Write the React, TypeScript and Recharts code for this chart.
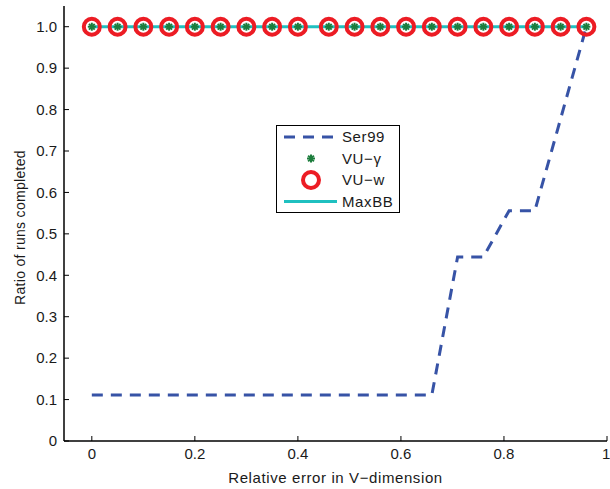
import React from 'react';
import { ComposedChart, Line, XAxis, YAxis, Legend } from 'recharts';

// relative error in V-dimension (x positions of the 20 runs)
const relErrors = [0, 0.05, 0.1, 0.15, 0.2, 0.25, 0.3, 0.35, 0.4, 0.46, 0.51, 0.56, 0.61, 0.66, 0.71, 0.76, 0.81, 0.86, 0.91, 0.96];

const ser99 = [0.111, 0.111, 0.111, 0.111, 0.111, 0.111, 0.111, 0.111, 0.111, 0.111, 0.111, 0.111, 0.111, 0.111, 0.444, 0.444, 0.556, 0.556, 0.778, 1.0];
const vuGamma = [1, 1, 1, 1, 1, 1, 1, 1, 1, 1, 1, 1, 1, 1, 1, 1, 1, 1, 1, 1];
const vuW = [1, 1, 1, 1, 1, 1, 1, 1, 1, 1, 1, 1, 1, 1, 1, 1, 1, 1, 1, 1];
const maxBB = [1, 1, 1, 1, 1, 1, 1, 1, 1, 1, 1, 1, 1, 1, 1, 1, 1, 1, 1, 1];

const xTicks = [0, 0.2, 0.4, 0.6, 0.8, 1];
const yTicks = [0, 0.1, 0.2, 0.3, 0.4, 0.5, 0.6, 0.7, 0.8, 0.9, 1.0];

const data = relErrors.map((x, i) => ({
  x,
  ser99: ser99[i],
  vuGamma: vuGamma[i],
  vuW: vuW[i],
  maxBB: maxBB[i],
}));

const FONT = '"Liberation Sans", Arial, sans-serif';
const BLUE = '#3753a6';
const GREEN = '#1d7d3d';
const RED = '#ec1c24';
const CYAN = '#1fc0c0';
const TEXT = '#1a1a1a';

const Asterisk = ({ cx, cy, size = 4 }: { cx?: number; cy?: number; size?: number }) => {
  if (cx == null || cy == null) return null;
  const d = size * 0.72;
  return (
    <g stroke={GREEN} strokeWidth={2}>
      <line x1={cx - size} y1={cy} x2={cx + size} y2={cy} />
      <line x1={cx} y1={cy - size} x2={cx} y2={cy + size} />
      <line x1={cx - d} y1={cy - d} x2={cx + d} y2={cy + d} />
      <line x1={cx - d} y1={cy + d} x2={cx + d} y2={cy - d} />
    </g>
  );
};

const Ring = ({ cx, cy }: { cx?: number; cy?: number }) => {
  if (cx == null || cy == null) return null;
  return <circle cx={cx} cy={cy} r={8} fill="none" stroke={RED} strokeWidth={4} />;
};

const fmtX = (v: number) => (v === 0 ? '0' : v === 1 ? '1' : v.toFixed(1));
const fmtY = (v: number) => (v === 0 ? '0' : v.toFixed(1));

const legendItems = [
  { name: 'Ser99', kind: 'dash' },
  { name: 'VU\u2212\u03b3', kind: 'star' },
  { name: 'VU\u2212w', kind: 'ring' },
  { name: 'MaxBB', kind: 'line' },
];

const LegendBox = () => (
  <svg width={124} height={88} style={{ display: 'block' }}>
    <rect x={0.5} y={0.5} width={123} height={87} fill="#fff" stroke="#000" strokeWidth={1} />
    {legendItems.map((it, i) => {
      const y = 12 + i * 21.5;
      return (
        <g key={it.name}>
          {it.kind === 'dash' && (
            <line x1={8} y1={y} x2={61} y2={y} stroke={BLUE} strokeWidth={3} strokeDasharray="11 8" />
          )}
          {it.kind === 'line' && <line x1={8} y1={y} x2={61} y2={y} stroke={CYAN} strokeWidth={3} />}
          {it.kind === 'star' && <Asterisk cx={35} cy={y} />}
          {it.kind === 'ring' && <Ring cx={35} cy={y} />}
          <text x={66} y={y} dy="0.36em" fontFamily={FONT} fontSize={15} letterSpacing={0.6} fill={TEXT}>
            {it.name}
          </text>
        </g>
      );
    })}
  </svg>
);

export default function App() {
  const tickStyle = { fill: TEXT, fontSize: 15, fontFamily: FONT };
  return (
    <div style={{ position: 'absolute', left: 0, top: 0, background: '#fff' }}>
      <ComposedChart width={610} height={489} data={data} margin={{ top: 6, right: 3, bottom: 0, left: 0 }}>
        <XAxis
          xAxisId="bottom"
          dataKey="x"
          type="number"
          domain={[-0.054, 1]}
          ticks={xTicks}
          tickFormatter={fmtX}
          allowDataOverflow
          height={48}
          tickSize={-5}
          tickMargin={12}
          axisLine={{ stroke: '#000', strokeWidth: 1.5 }}
          tickLine={{ stroke: '#000' }}
          tick={tickStyle}
          label={{ value: 'Relative error in V\u2212dimension', position: 'insideBottom', offset: 6, fill: TEXT, fontSize: 15, fontFamily: FONT, letterSpacing: 0.6 }}
        />
        <XAxis
          xAxisId="top"
          dataKey="x"
          type="number"
          orientation="top"
          domain={[-0.054, 1]}
          ticks={xTicks}
          tickFormatter={() => ''}
          allowDataOverflow
          height={0}
          tickSize={-5}
          axisLine={{ stroke: '#000', strokeWidth: 1.5 }}
          tickLine={{ stroke: '#000' }}
        />
        <YAxis
          yAxisId="left"
          type="number"
          domain={[0, 1.05]}
          ticks={yTicks}
          tickFormatter={fmtY}
          allowDataOverflow
          width={64}
          tickSize={-5}
          tickMargin={12}
          axisLine={{ stroke: '#000', strokeWidth: 1.5 }}
          tickLine={{ stroke: '#000' }}
          tick={tickStyle}
          label={({ viewBox }: any) => (
            <text
              x={viewBox.x + 20}
              y={viewBox.y + viewBox.height / 2 + 4}
              transform={`rotate(-90, ${viewBox.x + 20}, ${viewBox.y + viewBox.height / 2 + 4})`}
              textAnchor="middle"
              dominantBaseline="central"
              fontFamily={FONT}
              fontSize={14}
              letterSpacing={0.3}
              fill={TEXT}
            >
              Ratio of runs completed
            </text>
          )}
        />
        <YAxis
          yAxisId="right"
          type="number"
          orientation="right"
          domain={[0, 1.05]}
          ticks={yTicks}
          tickFormatter={() => ''}
          allowDataOverflow
          width={0}
          tickSize={-5}
          axisLine={{ stroke: '#000', strokeWidth: 1.5 }}
          tickLine={{ stroke: '#000' }}
        />
        <Legend
          layout="vertical"
          align="center"
          verticalAlign="middle"
          wrapperStyle={{ position: 'absolute', left: 276, top: 125, width: 124, height: 88 }}
          content={() => <LegendBox />}
        />
        <Line
          xAxisId="bottom"
          yAxisId="left"
          dataKey="ser99"
          name="Ser99"
          type="linear"
          stroke={BLUE}
          strokeWidth={3}
          strokeDasharray="11 8"
          dot={false}
          isAnimationActive={false}
        />
        <Line
          xAxisId="bottom"
          yAxisId="left"
          dataKey="vuGamma"
          name={'VU\u2212\u03b3'}
          type="linear"
          stroke="none"
          dot={(p: any) => <Asterisk key={`g${p.index}`} cx={p.cx} cy={p.cy} />}
          isAnimationActive={false}
        />
        <Line
          xAxisId="bottom"
          yAxisId="left"
          dataKey="vuW"
          name={'VU\u2212w'}
          type="linear"
          stroke="none"
          dot={(p: any) => <Ring key={`r${p.index}`} cx={p.cx} cy={p.cy} />}
          isAnimationActive={false}
        />
        <Line
          xAxisId="bottom"
          yAxisId="left"
          dataKey="maxBB"
          name="MaxBB"
          type="linear"
          stroke={CYAN}
          strokeWidth={3}
          dot={false}
          isAnimationActive={false}
        />
      </ComposedChart>
    </div>
  );
}
